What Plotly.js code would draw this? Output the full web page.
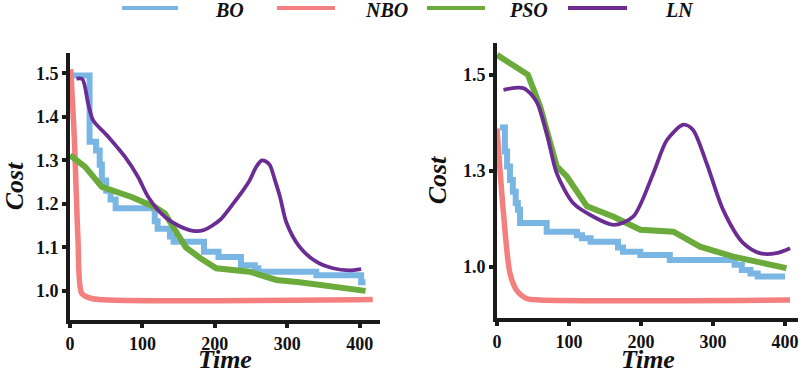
<!DOCTYPE html>
<html>
<head>
<meta charset="utf-8">
<script src="https://cdn.plot.ly/plotly-3.0.1.min.js"></script>
<style>html,body{margin:0;padding:0;background:#fff;}#chart{width:800px;height:373px;}</style>
</head>
<body>
<div id="chart"></div>
<script>
// ---------- data ----------
const seriesNames = ['BO', 'NBO', 'PSO', 'LN'];
const xTitle = 'Time';
const yTitle = 'Cost';

// Left panel
const leftBO_t = [2, 27, 36, 41, 44, 50, 56, 63, 117, 121, 138, 143, 185, 205, 236, 255, 260, 340, 402, 408];
const leftBO_c = [1.495, 1.343, 1.323, 1.29, 1.254, 1.23, 1.21, 1.19, 1.16, 1.143, 1.125, 1.113, 1.09, 1.078, 1.059, 1.052, 1.044, 1.036, 1.02, 1.02];

const leftNBO_t = [1, 6, 11, 16, 25, 40, 418];
const leftNBO_c = [1.51, 1.35, 1.12, 0.995, 0.985, 0.98, 0.98];

const leftPSO_t = [0, 21, 44, 85, 117, 131, 145, 160, 180, 202, 248, 285, 317, 372, 408];
const leftPSO_c = [1.312, 1.285, 1.239, 1.216, 1.193, 1.178, 1.14, 1.1, 1.075, 1.052, 1.044, 1.025, 1.02, 1.009, 1.0];

const leftLN_t = [9, 17, 25, 32, 53, 76, 94, 108, 131, 152, 170, 185, 207, 225, 239, 248, 257, 265, 270, 276, 283, 290, 299, 317, 340, 363, 385, 402];
const leftLN_c = [1.488, 1.487, 1.431, 1.392, 1.354, 1.308, 1.262, 1.216, 1.17, 1.148, 1.138, 1.14, 1.163, 1.2, 1.231, 1.254, 1.285, 1.30, 1.298, 1.289, 1.254, 1.216, 1.156, 1.101, 1.067, 1.052, 1.047, 1.05];

// Right panel
const rightBO_t = [4, 11, 14, 18, 22, 26, 29, 32, 69, 111, 118, 130, 168, 175, 199, 240, 330, 340, 352, 362, 400];
const rightBO_c = [1.363, 1.30, 1.261, 1.226, 1.195, 1.166, 1.148, 1.114, 1.091, 1.082, 1.074, 1.065, 1.05, 1.039, 1.03, 1.017, 1.005, 0.991, 0.982, 0.974, 0.974];

const rightNBO_t = [0, 9, 18, 27, 41, 60, 407];
const rightNBO_c = [1.36, 1.139, 0.983, 0.939, 0.917, 0.913, 0.913];

const rightPSO_t = [0, 43, 60, 83, 97, 125, 162, 199, 245, 282, 328, 402];
const rightPSO_c = [1.552, 1.5, 1.417, 1.261, 1.235, 1.157, 1.13, 1.096, 1.091, 1.052, 1.026, 0.996];

const rightLN_t = [9, 37, 55, 69, 83, 106, 134, 162, 189, 217, 236, 259, 272, 291, 314, 342, 365, 388, 407];
const rightLN_c = [1.461, 1.465, 1.43, 1.348, 1.243, 1.165, 1.13, 1.109, 1.13, 1.243, 1.33, 1.37, 1.357, 1.27, 1.148, 1.061, 1.035, 1.035, 1.048];

const xTickVals = [0, 100, 200, 300, 400];
const leftYTicks = [1.0, 1.1, 1.2, 1.3, 1.4, 1.5];
const leftYTickText = ['1.0', '1.1', '1.2', '1.3', '1.4', '1.5'];
const rightYTicks = [1.0, 1.25, 1.5];
const rightYTickText = ['1.0', '1.3', '1.5'];

// ---------- styles ----------
const colors = {BO: '#7AB6E4', NBO: '#F47F7F', PSO: '#6AAB3B', LN: '#6B2C93'};
const widths = {BO: 6, NBO: 5.5, PSO: 6, LN: 3.8};
const shapesOf = {BO: 'hv', NBO: 'spline', PSO: 'linear', LN: 'spline'};
const SERIF = '"Liberation Serif", "Times New Roman", Times, "DejaVu Serif", serif';

function tr(name, t, c, xa, ya) {
  return {
    type: 'scatter', mode: 'lines', name: name, x: t, y: c,
    xaxis: xa, yaxis: ya, showlegend: false, hoverinfo: 'skip',
    line: {color: colors[name], width: widths[name], shape: shapesOf[name], smoothing: 0.8}
  };
}

const data = [
  tr('BO', leftBO_t, leftBO_c, 'x', 'y'),
  tr('NBO', leftNBO_t, leftNBO_c, 'x', 'y'),
  tr('PSO', leftPSO_t, leftPSO_c, 'x', 'y'),
  tr('LN', leftLN_t, leftLN_c, 'x', 'y'),
  tr('BO', rightBO_t, rightBO_c, 'x2', 'y2'),
  tr('NBO', rightNBO_t, rightNBO_c, 'x2', 'y2'),
  tr('PSO', rightPSO_t, rightPSO_c, 'x2', 'y2'),
  tr('LN', rightLN_t, rightLN_c, 'x2', 'y2')
];

const tickFont = {family: SERIF, size: 18, color: '#111', weight: 700};
const titleFont = {family: SERIF, size: 26, color: '#111', weight: 700, style: 'italic'};

function xAxis(domain, range, anchor) {
  return {
    domain: domain, range: range, anchor: anchor,
    showline: true, linewidth: 4, linecolor: '#1a1a1a',
    ticks: 'outside', ticklen: 4, tickwidth: 4, tickcolor: '#1a1a1a',
    tickvals: xTickVals, tickfont: tickFont,
    showgrid: false, zeroline: false, fixedrange: true
  };
}
function yAxis(domain, range, anchor, tv, tt) {
  return {
    domain: domain, range: range, anchor: anchor,
    showline: true, linewidth: 4, linecolor: '#1a1a1a',
    ticks: 'outside', ticklen: 4, tickwidth: 4, tickcolor: '#1a1a1a',
    tickvals: tv, ticktext: tt, tickfont: tickFont,
    showgrid: false, zeroline: false, fixedrange: true,
    title: {text: yTitle, font: titleFont, standoff: 10}
  };
}

const W = 800, H = 373;
const shapes = [];
const annotations = [];

// x-axis titles placed below each panel (centred on the panel's x domain)
const xDomL = [70 / W, 380 / W];
const xDomR = [497 / W, 798 / W];
[xDomL, xDomR].forEach(d => {
  annotations.push({xref: 'paper', yref: 'paper', x: (d[0] + d[1]) / 2, y: 1 - 359 / H,
    xanchor: 'center', yanchor: 'middle', showarrow: false, text: xTitle, font: titleFont});
});

// manual legend (long line samples, text to the right)
const legendLineX = [[122, 178], [277, 335], [427, 485], [568, 627]];
const legendTextX = [213, 363, 507, 663];
const legendLineY = 1 - 8 / H;
const legendTextY = 1 - 10 / H;
seriesNames.forEach((n, i) => {
  shapes.push({type: 'line', xref: 'paper', yref: 'paper',
    x0: legendLineX[i][0] / W, x1: legendLineX[i][1] / W, y0: legendLineY, y1: legendLineY,
    line: {color: colors[n], width: 4}});
  annotations.push({xref: 'paper', yref: 'paper', x: legendTextX[i] / W, y: legendTextY,
    xanchor: 'left', yanchor: 'middle', showarrow: false, text: n,
    font: {family: SERIF, size: 20, color: '#111', weight: 700, style: 'italic'}});
});

const layout = {
  width: W, height: H,
  margin: {l: 0, r: 0, t: 0, b: 0},
  paper_bgcolor: '#fff', plot_bgcolor: '#fff',
  showlegend: false,
  xaxis: xAxis(xDomL, [0, 428], 'y'),
  yaxis: yAxis([1 - 320 / H, 1 - 53 / H], [0.933, 1.547], 'x', leftYTicks, leftYTickText),
  xaxis2: xAxis(xDomR, [0, 418], 'y2'),
  yaxis2: yAxis([1 - 318 / H, 1 - 43 / H], [0.866, 1.583], 'x2', rightYTicks, rightYTickText),
  shapes: shapes,
  annotations: annotations
};

Plotly.newPlot('chart', data, layout, {displayModeBar: false, staticPlot: true});
</script>
</body>
</html>
